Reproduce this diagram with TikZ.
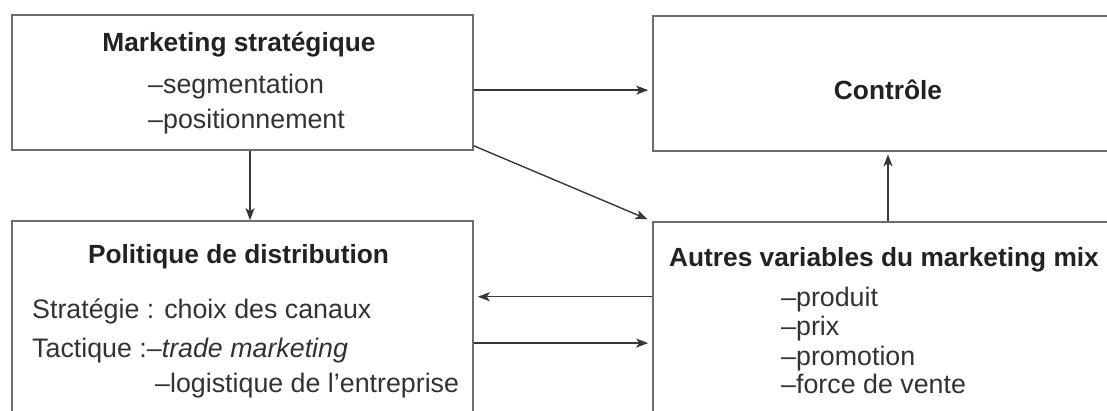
\documentclass[tikz,border=0pt]{standalone}
\usepackage{fontspec}
\setmainfont{Liberation Sans}
\usetikzlibrary{arrows.meta,calc}

\definecolor{boxline}{RGB}{110,110,110}
\definecolor{arrline}{RGB}{55,55,55}
\definecolor{titlecol}{RGB}{34,34,34}
\definecolor{bodycol}{RGB}{50,50,50}

\begin{document}
\begin{tikzpicture}[x=1pt,y=-1pt,
  panel/.style={draw=boxline, line width=1.6pt, rectangle, inner sep=0pt, fill=none},
  arr/.style={draw=arrline, line width=1.4pt,
    -{Stealth[length=12pt,width=9pt,inset=3pt]}},
  heading/.style={inner sep=0pt, anchor=base, text=titlecol,
    font=\bfseries\fontsize{26.3pt}{30pt}\selectfont},
  body/.style={inner sep=0pt, anchor=base west, text=bodycol,
    font=\fontsize{26.8pt}{30pt}\selectfont}]

\useasboundingbox (0,0) rectangle (1107,410);
\clip (0,0) rectangle (1107,410);

% boxes (the right and lower ones run past the frame)
\node[panel, minimum width=461pt, minimum height=135pt] (ms)  at (242.5,82.5) {};
\node[panel, minimum width=470pt, minimum height=135pt] (ctl) at (888,83.5)   {};
\node[panel, minimum width=461pt, minimum height=219pt] (pd)  at (242.5,330.5) {};
\node[panel, minimum width=470pt, minimum height=218pt] (am)  at (888,331)    {};

% Marketing strategique
\node[heading] (msT) at (239,51) {Marketing stratégique};
\node[body] (ms1) at (148,93)  {–segmentation};
\node[body] (ms2) at (148,128) {–positionnement};

% Controle
\node[heading] (ctlT) at (888,99) {Contrôle};

% Politique de distribution
\node[heading] (pdT) at (238.5,263) {Politique de distribution};
\node[body] (pd1) at (32,318)  {Stratégie : choix des canaux};
\node[body] (pd2) at (32,357)  {Tactique :–\textit{trade marketing}};
\node[body] (pd3) at (155,392) {–logistique de l’entreprise};

% Autres variables
\node[heading] (amT) at (884,266) {Autres variables du marketing mix};
\node[body] (am1) at (781,306) {–produit};
\node[body] (am2) at (781,335) {–prix};
\node[body] (am3) at (781,365) {–promotion};
\node[body] (am4) at (781,393) {–force de vente};

% connectors
\coordinate (msR) at ($(ms.north east)!0.556!(ms.south east)$);
\draw[arr, shorten >=4pt] (msR) -- (msR -| ctl.west);

\draw[arr] ([xshift=7.5pt]ms.south) -- ([xshift=7.5pt]pd.north);

\draw[arr, shorten >=5pt] ([yshift=5pt]ms.south east) -- (am.north west);

\draw[arr, shorten >=2.5pt] (am.north) -- (ctl.south);

\coordinate (amL) at ($(am.north west)!0.344!(am.south west)$);
\draw[arr, shorten >=4pt] (amL) -- (amL -| pd.east);

\coordinate (pdR) at ($(pd.north east)!0.557!(pd.south east)$);
\draw[arr, shorten >=4pt] (pdR) -- (pdR -| am.west);

\end{tikzpicture}
\end{document}
